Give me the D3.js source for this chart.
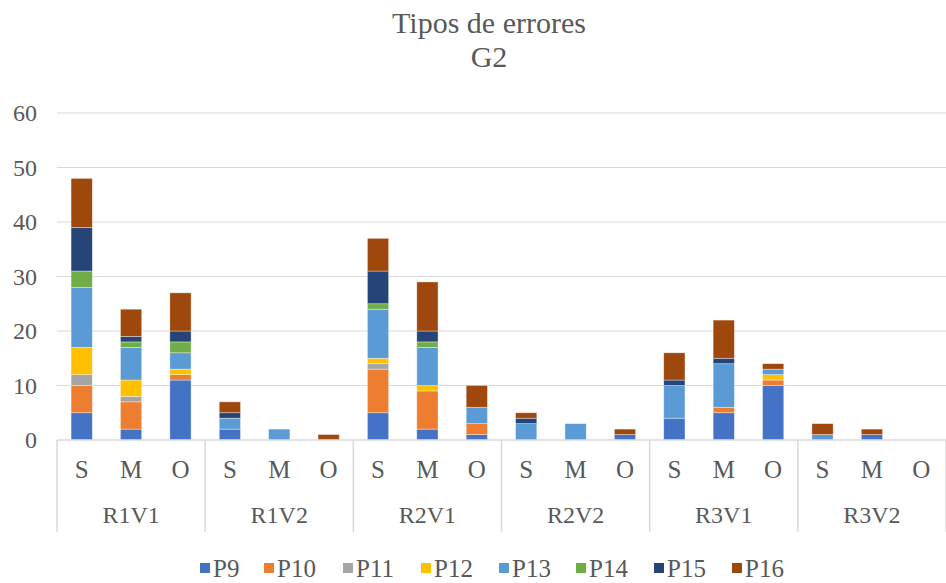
<!DOCTYPE html>
<html>
<head>
<meta charset="utf-8">
<script src="https://cdn.jsdelivr.net/npm/d3@7"></script>
<style>
  body { margin: 0; background: #fff; }
</style>
</head>
<body>
<svg width="946" height="583" style="font-family: 'Times New Roman', 'Liberation Serif', 'DejaVu Serif', serif;"></svg>
<script>
// groups and sub-categories along the x axis
var groups = ['R1V1', 'R1V2', 'R2V1', 'R2V2', 'R3V1', 'R3V2'];
var subCats = ['S', 'M', 'O'];
var seriesNames = ['P9', 'P10', 'P11', 'P12', 'P13', 'P14', 'P15', 'P16'];
var yTicks = [0, 10, 20, 30, 40, 50, 60];

// values per series, in order R1V1 S,M,O, R1V2 S,M,O, ...
var p9  = [5, 2, 11, 2, 0, 0, 5, 2, 1, 0, 0, 1, 4, 5, 10, 0, 1, 0];
var p10 = [5, 5, 1, 0, 0, 0, 8, 7, 2, 0, 0, 0, 0, 1, 1, 0, 0, 0];
var p11 = [2, 1, 0, 0, 0, 0, 1, 0, 0, 0, 0, 0, 0, 0, 0, 0, 0, 0];
var p12 = [5, 3, 1, 0, 0, 0, 1, 1, 0, 0, 0, 0, 0, 0, 1, 0, 0, 0];
var p13 = [11, 6, 3, 2, 2, 0, 9, 7, 3, 3, 3, 0, 6, 8, 1, 1, 0, 0];
var p14 = [3, 1, 2, 0, 0, 0, 1, 1, 0, 0, 0, 0, 0, 0, 0, 0, 0, 0];
var p15 = [8, 1, 2, 1, 0, 0, 6, 2, 0, 1, 0, 0, 1, 1, 0, 0, 0, 0];
var p16 = [9, 5, 7, 2, 0, 1, 6, 9, 4, 1, 0, 1, 5, 7, 1, 2, 1, 0];

var colors = ['#4472C4', '#ED7D31', '#A5A5A5', '#FFC000', '#5B9BD5', '#70AD47', '#264478', '#9E480E'];

var seriesValues = [p9, p10, p11, p12, p13, p14, p15, p16];

// build rows for d3.stack
var rows = [];
groups.forEach(function(g, gi) {
    subCats.forEach(function(s, si) {
        var i = gi * 3 + si;
        var row = { key: g + '-' + s, group: g, sub: s };
        seriesNames.forEach(function(n, k) { row[n] = seriesValues[k][i]; });
        rows.push(row);
    });
});

var svg = d3.select('svg');
var plot = { l: 57, r: 946, t: 113, b: 440 };
var textColor = '#595959';

var x = d3.scaleBand()
    .domain(rows.map(d => d.key))
    .range([plot.l, plot.r])
    .paddingInner(0.57)
    .paddingOuter(0.285);

var y = d3.scaleLinear().domain([0, 60]).range([plot.b, plot.t]);

// title
svg.append('text')
    .attr('x', 489).attr('y', 33)
    .attr('text-anchor', 'middle')
    .attr('fill', textColor)
    .style('font-size', '30px')
    .text('Tipos de errores');
svg.append('text')
    .attr('x', 489).attr('y', 67)
    .attr('text-anchor', 'middle')
    .attr('fill', textColor)
    .style('font-size', '30px')
    .text('G2');

// gridlines
svg.append('g').selectAll('line')
    .data(yTicks.filter(t => t > 0))
    .enter().append('line')
    .attr('x1', plot.l).attr('x2', plot.r)
    .attr('y1', d => y(d)).attr('y2', d => y(d))
    .attr('stroke', '#d9d9d9').attr('stroke-width', 1);

// y labels
svg.append('g').selectAll('text')
    .data(yTicks)
    .enter().append('text')
    .attr('x', 37).attr('y', d => y(d) + 8)
    .attr('text-anchor', 'end')
    .attr('fill', textColor)
    .style('font-size', '24px')
    .text(d => d);

// stacked bars
var stack = d3.stack().keys(seriesNames);
var layers = stack(rows);

svg.append('g').selectAll('g')
    .data(layers)
    .enter().append('g')
    .attr('fill', (d, i) => colors[i])
    .selectAll('rect')
    .data(d => d.filter(p => p[1] - p[0] > 0))
    .enter().append('rect')
    .attr('x', d => x(d.data.key))
    .attr('width', x.bandwidth())
    .attr('y', d => y(d[1]))
    .attr('height', d => y(d[0]) - y(d[1]))
    .attr('stroke', '#ffffff')
    .attr('stroke-opacity', 0.5)
    .attr('stroke-width', 0.7);

// x axis line
svg.append('line')
    .attr('x1', plot.l).attr('x2', plot.r)
    .attr('y1', plot.b).attr('y2', plot.b)
    .attr('stroke', '#d9d9d9').attr('stroke-width', 1.5);

// group separators
var groupWidth = x.step() * 3;
svg.append('g').selectAll('line')
    .data(d3.range(groups.length + 1))
    .enter().append('line')
    .attr('x1', d => plot.l + d * groupWidth).attr('x2', d => plot.l + d * groupWidth)
    .attr('y1', plot.b).attr('y2', 532)
    .attr('stroke', '#d9d9d9').attr('stroke-width', 1.5);

// sub-category labels
svg.append('g').selectAll('text')
    .data(rows)
    .enter().append('text')
    .attr('x', d => x(d.key) + x.bandwidth() / 2)
    .attr('y', 478)
    .attr('text-anchor', 'middle')
    .attr('fill', textColor)
    .style('font-size', '25px')
    .text(d => d.sub);

// group labels
svg.append('g').selectAll('text')
    .data(groups)
    .enter().append('text')
    .attr('x', (d, i) => plot.l + (i + 0.5) * groupWidth)
    .attr('y', 523)
    .attr('text-anchor', 'middle')
    .attr('fill', textColor)
    .style('font-size', '24px')
    .text(d => d);

// legend
var legendX = [200, 264, 343, 421, 499, 576, 654, 732];
var legend = svg.append('g').selectAll('g')
    .data(seriesNames)
    .enter().append('g')
    .attr('transform', (d, i) => 'translate(' + legendX[i] + ',568)');
legend.append('rect')
    .attr('x', 0).attr('y', -5)
    .attr('width', 10).attr('height', 10)
    .attr('fill', (d, i) => colors[i]);
legend.append('text')
    .attr('x', 13).attr('y', 9)
    .attr('fill', textColor)
    .style('font-size', '25px')
    .text(d => d);
</script>
</body>
</html>
